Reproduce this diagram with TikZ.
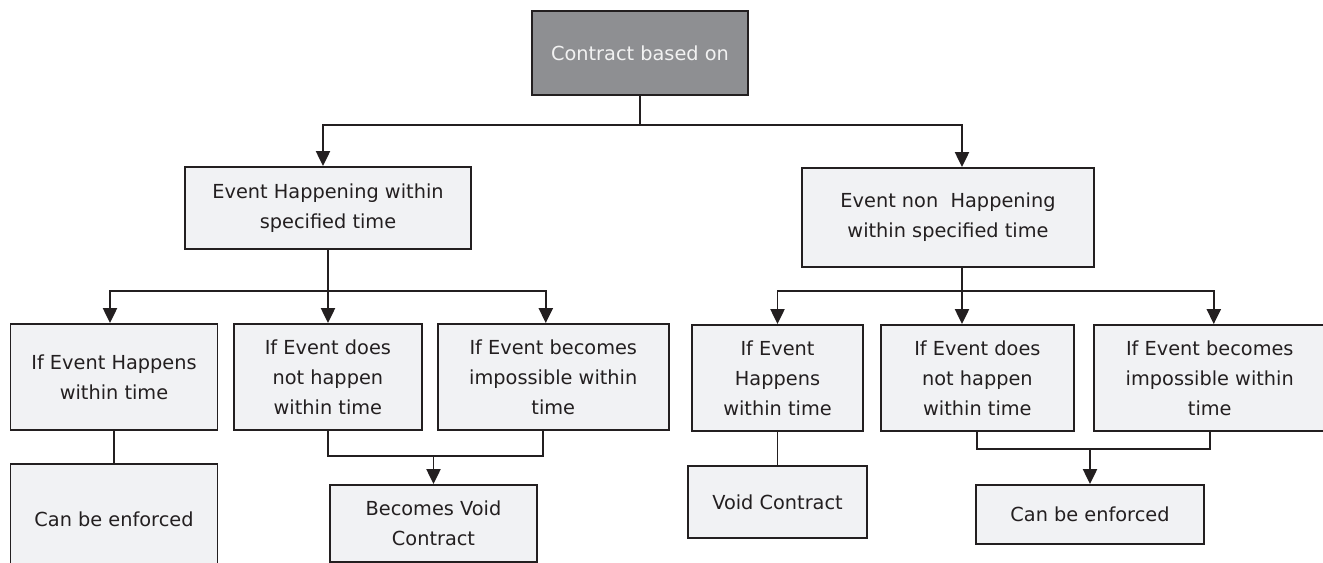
\documentclass[tikz,border=0pt]{standalone}
\usepackage{fontspec}
\setmainfont{DejaVu Sans}
\usepackage{tikz}
\usetikzlibrary{positioning,arrows.meta}
\definecolor{boxfill}{HTML}{F1F2F4}
\definecolor{boxline}{HTML}{231F20}
\definecolor{rootfill}{HTML}{8E8F92}

\begin{document}
\begin{tikzpicture}[x=0.02cm,y=-0.02cm,>={Triangle[length=8.5pt,width=8pt]}]
\tikzset{basic/.style={draw=boxline,fill=boxfill,line width=1.1pt,align=center,text=boxline,inner sep=0pt,
  font=\fontsize{11}{17}\selectfont}}
\tikzset{sized/.style 2 args={basic,minimum width=#1,minimum height=#2}}
\tikzset{rootbox/.style={basic,fill=rootfill,text=white!95!black}}
\tikzset{link/.style={draw=boxline,line width=1.1pt}}
\tikzset{thin link/.style={draw=boxline,line width=0.75pt}}
	\useasboundingbox (0,0) rectangle (1323,563);
	\node[rootbox,minimum width=4.32cm,minimum height=1.68cm] (root) at (640,53) {Contract based on};
	% first split
	\node[sized={5.72cm}{1.64cm}] (evh) at (328,208) {Event Happening within\\specified time};
	\node[sized={5.84cm}{1.98cm}] (evn) at (948,217.5) {Event non\ \ Happening\\within specified time};
	% left branch
	\node[sized={4.14cm}{2.12cm}] (a1) at (114,377) {If Event Happens\\within time};
	\node[sized={3.76cm}{2.12cm},right=0.29cm of a1] (a2) {If Event does\\not happen\\within time};
	\node[sized={4.62cm}{2.12cm},right=0.28cm of a2] (a3) {If Event becomes\\impossible within\\time};
	\node[sized={4.14cm}{2.2cm},below=0.64cm of a1] (enf1) {Can be enforced};
	\node[sized={4.14cm}{1.54cm}] (void1) at (433.5,523.5) {Becomes Void\\Contract};
	% right branch
	\node[sized={3.42cm}{2.12cm}] (c1) at (777.5,378) {If Event\\Happens\\within time};
	\node[sized={3.86cm}{2.12cm},right=0.32cm of c1] (c2) {If Event does\\not happen\\within time};
	\node[sized={4.64cm}{2.12cm},right=0.36cm of c2] (c3) {If Event becomes\\impossible within\\time};
	\node[sized={3.58cm}{1.44cm},below=0.66cm of c1] (void2) {Void Contract};
	\node[sized={4.56cm}{1.18cm}] (enf2) at (1090,514.5) {Can be enforced};
	% junctions
	\coordinate (j0) at (640,125);
	\coordinate (j1) at (328,291);
	\coordinate (j2) at (962,291);
	\coordinate (m1) at (433.5,456);
	\coordinate (m2) at (1090,449);
	\path[link] (root) -- (j0);
		\path[draw,->,link] (j0) -| ([xshift=-0.1cm]evh.north);
		\path[draw,->,link] (j0) -| ([xshift=0.28cm]evn.north);
	\path[link] (evh) -- (j1);
		\path[draw,->,link] (j1) -| ([xshift=-0.08cm]a1.north);
		\path[draw,->,link] (j1) -- (j1 |- a2.north);
		\path[draw,->,link] (j1) -| ([xshift=-0.15cm]a3.north);
	\path[link] ([xshift=0.28cm]evn.south) -- (j2);
		\path[draw,->,link] (j2) -| (c1.north);
		\path[draw,->,link] (j2) -- (j2 |- c2.north);
		\path[draw,->,link] (j2) -| ([xshift=0.08cm]c3.north);
	\path[thin link] (a1) -- (enf1);
	\path[thin link] (c1) -- (void2);
	\path[link] (a2.south) |- (m1) -| ([xshift=-0.2cm]a3.south);
		\path[draw,->,link] (m1) -- (void1);
	\path[link] (c2.south) |- (m2) -| (c3.south);
		\path[draw,->,link] (m2) -- (enf2);
\end{tikzpicture}
\end{document}
